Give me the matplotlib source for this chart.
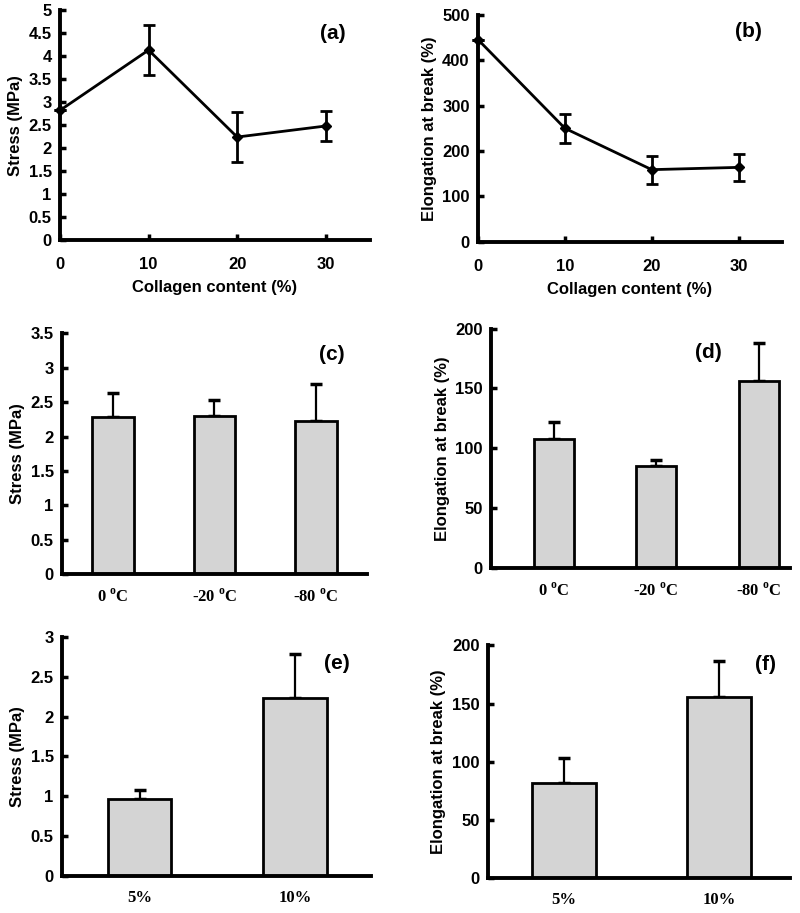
"""Six-panel figure: tensile stress and elongation at break of the films."""

import matplotlib

matplotlib.use("Agg")
import matplotlib.pyplot as plt
from matplotlib.ticker import FuncFormatter

plt.rcParams["font.family"] = "Liberation Sans"
plt.rcParams["font.weight"] = "bold"
plt.rcParams["mathtext.fontset"] = "custom"
plt.rcParams["mathtext.rm"] = "Liberation Serif:bold"
plt.rcParams["mathtext.bf"] = "Liberation Serif:bold"

# (a), (b): collagen content series
collagen = [0, 10, 20, 30]
stress_a = [2.82, 4.13, 2.24, 2.48]
stress_a_err = [0.0, 0.54, 0.55, 0.33]
elong_b = [445, 250, 159, 164]
elong_b_err = [0, 32, 31, 30]

# (c), (d): freezing temperature
temps = [r"0 $^{\mathrm{o}}$C", r"-20 $^{\mathrm{o}}$C", r"-80 $^{\mathrm{o}}$C"]
stress_c = [2.29, 2.30, 2.23]
stress_c_err = [0.34, 0.23, 0.53]
elong_d = [108, 85, 156]
elong_d_err = [14, 5, 32]

# (e), (f): concentration
concs = ["5%", "10%"]
stress_e = [0.97, 2.23]
stress_e_err = [0.11, 0.55]
elong_f = [82, 156]
elong_f_err = [21, 31]

LW = 2.8
BAR_FC = "#d4d4d4"
fmt = FuncFormatter(lambda v, _: f"{v:g}")


def style(ax, ylabel, ylim, ystep, label, lx, ly):
    for s in ("top", "right"):
        ax.spines[s].set_visible(False)
    for s in ("left", "bottom"):
        ax.spines[s].set_linewidth(LW)
    ax.set_ylim(*ylim)
    ticks = [i * ystep for i in range(int(round(ylim[1] / ystep)) + 1)]
    ax.set_yticks(ticks)
    ax.yaxis.set_major_formatter(fmt)
    ax.tick_params(axis="y", direction="in", length=4, width=2.5, labelsize=12, pad=6)
    ax.set_ylabel(ylabel, fontsize=12, fontweight="bold", labelpad=4)
    ax.text(lx, ly, label, transform=ax.transAxes, fontsize=15,
            fontweight="bold", ha="center", va="center")


def line_panel(ax, y, err, ylabel, ylim, ystep, label, lx, ly):
    ax.errorbar(collagen, y, yerr=err, color="black", lw=2, marker="D", ms=5,
                capsize=4, capthick=2, elinewidth=2, clip_on=False, zorder=3)
    ax.set_xlim(0, 35)
    ax.set_xticks(collagen)
    ax.tick_params(axis="x", direction="in", length=4, width=2.5, labelsize=12, pad=12)
    ax.set_xlabel("Collagen content (%)", fontsize=12, fontweight="bold", labelpad=6)
    style(ax, ylabel, ylim, ystep, label, lx, ly)


def bar_panel(ax, cats, y, err, ylabel, ylim, ystep, label, lx, ly, xlim, width=0.41):
    x = list(range(len(cats)))
    ax.bar(x, y, width=width, color=BAR_FC, edgecolor="black", linewidth=2, zorder=2)
    ax.errorbar(x, y, yerr=[[0] * len(err), err], fmt="none", ecolor="black",
                elinewidth=1.6, capsize=4, capthick=2.5, zorder=1)
    ax.set_xlim(*xlim)
    ax.set_xticks(x)
    ax.set_xticklabels(cats, family="Liberation Serif", fontsize=12, fontweight="bold")
    ax.tick_params(axis="x", length=0, pad=10)
    style(ax, ylabel, ylim, ystep, label, lx, ly)


fig = plt.figure(figsize=(8, 9.13), dpi=100)

ax_a = fig.add_axes([0.075, 0.737, 0.3875, 0.252])
ax_b = fig.add_axes([0.5975, 0.735, 0.38, 0.249])
ax_c = fig.add_axes([0.0775, 0.371, 0.381, 0.264])
ax_d = fig.add_axes([0.614, 0.378, 0.374, 0.262])
ax_e = fig.add_axes([0.0775, 0.0405, 0.386, 0.262])
ax_f = fig.add_axes([0.61, 0.038, 0.3775, 0.255])

line_panel(ax_a, stress_a, stress_a_err, "Stress (MPa)", (0, 5), 0.5, "(a)", 0.88, 0.90)
line_panel(ax_b, elong_b, elong_b_err, "Elongation at break (%)", (0, 500), 100, "(b)", 0.89, 0.925)

bar_panel(ax_c, temps, stress_c, stress_c_err, "Stress (MPa)", (0, 3.5), 0.5,
          "(c)", 0.885, 0.91, (-0.5, 2.5))
bar_panel(ax_d, temps, elong_d, elong_d_err, "Elongation at break (%)", (0, 200), 50,
          "(d)", 0.726, 0.90, (-0.61, 2.31), width=0.39)
bar_panel(ax_e, concs, stress_e, stress_e_err, "Stress (MPa)", (0, 3), 0.5,
          "(e)", 0.89, 0.89, (-0.5, 1.49))
bar_panel(ax_f, concs, elong_f, elong_f_err, "Elongation at break (%)", (0, 200), 50,
          "(f)", 0.92, 0.92, (-0.49, 1.46))

fig.savefig("out.png", dpi=100)
